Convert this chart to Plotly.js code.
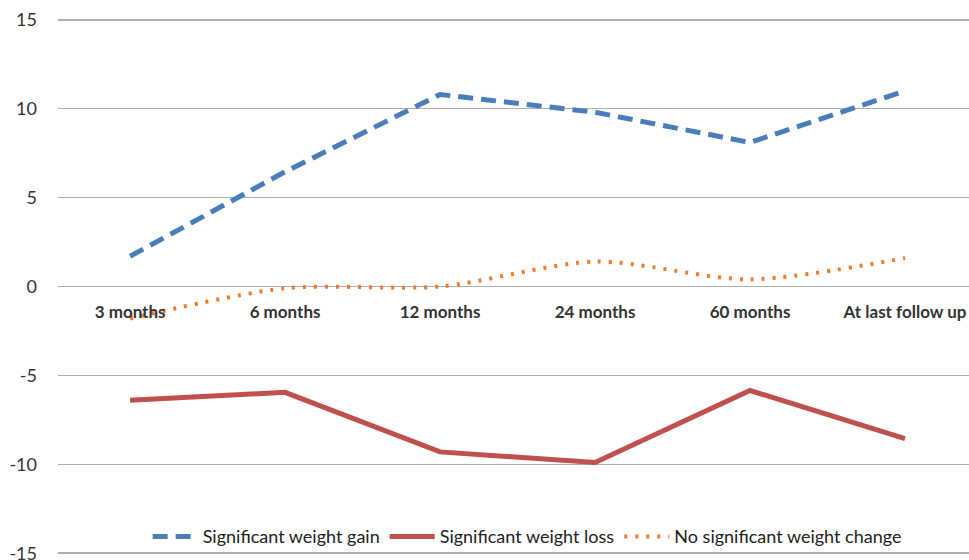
<!DOCTYPE html>
<html>
<head>
<meta charset="utf-8">
<script src="https://cdn.plot.ly/plotly-3.0.1.min.js"></script>
<style>
  html, body { margin: 0; padding: 0; background: #fff; }
  #chart { width: 969px; height: 560px; }
</style>
</head>
<body>
<div id="chart"></div>
<script>
// Follow-up time points
const categories = ['3 months', '6 months', '12 months', '24 months', '60 months', 'At last follow up'];

// Series values
const weightGain = [1.7, 6.45, 10.8, 9.8, 8.1, 11.0];
const weightLoss = [-6.4, -5.95, -9.3, -9.9, -5.85, -8.55];
const noChange   = [-1.8, -0.1, 0.0, 1.4, 0.4, 1.6];

// Y axis ticks
const yTicks = [-15, -10, -5, 0, 5, 10, 15];

const font = 'Lato, "Open Sans", sans-serif';

const traces = [
  {
    x: categories, y: weightGain, name: 'Significant weight gain',
    type: 'scatter', mode: 'lines',
    line: { color: '#4A7EBB', width: 5, dash: '15px,8px' }
  },
  {
    x: categories, y: weightLoss, name: 'Significant weight loss',
    type: 'scatter', mode: 'lines',
    line: { color: '#C0504D', width: 5 }
  },
  {
    x: categories, y: noChange, name: 'No significant weight change',
    type: 'scatter', mode: 'lines',
    line: { color: '#EE7A30', width: 4, dash: '3px,8px', shape: 'spline', smoothing: 0.8 }
  }
];

const layout = {
  width: 969, height: 560,
  margin: { l: 58, r: 0, t: 18, b: 5 },
  paper_bgcolor: '#ffffff',
  plot_bgcolor: '#ffffff',
  font: { family: font, color: '#333' },
  showlegend: true,
  legend: {
    orientation: 'h', x: 0.515, xanchor: 'center', y: 0.034, yanchor: 'middle',
    font: { family: font, size: 18, color: '#222' },
    itemwidth: 45, bgcolor: 'rgba(0,0,0,0)'
  },
  xaxis: {
    type: 'category',
    range: [-0.465, 5.413],
    anchor: 'free', position: 0.5,
    showgrid: false, zeroline: false, showline: false,
    ticks: '', ticklabelstandoff: 13,
    tickfont: { family: font, size: 17, color: '#333', weight: 'bold' }
  },
  yaxis: {
    range: [-15.1, 15.1],
    tickvals: yTicks,
    ticktext: yTicks.map(String),
    showgrid: true, gridcolor: '#ADADAD', gridwidth: 1.5,
    zeroline: false, showline: false,
    ticks: '', ticklabelstandoff: 20,
    ticklabeloverflow: 'allow',
    tickfont: { family: font, size: 18, color: '#333' }
  }
};

Plotly.newPlot('chart', traces, layout, { displayModeBar: false, staticPlot: true });
</script>
</body>
</html>
